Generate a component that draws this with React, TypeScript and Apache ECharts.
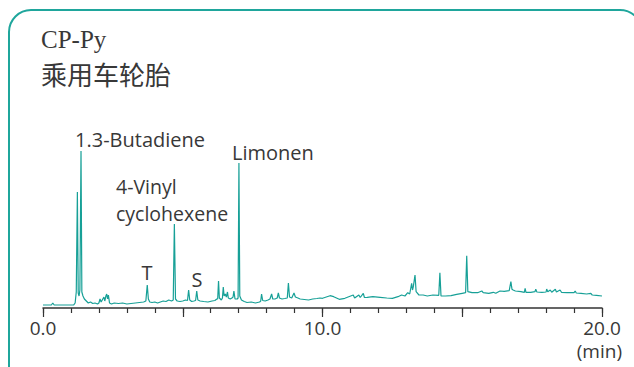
import React, { useEffect, useRef } from "react";
import * as echarts from "echarts";

// Retention time (min) of each sampled point of the pyrogram
const retentionTimes = [
  0, 0.15, 0.3, 0.35, 0.4, 0.6, 0.8, 1.0, 1.1,
  1.15, 1.19, 1.23, 1.26, 1.29, 1.32, 1.36, 1.39, 1.43, 1.48, 1.55, 1.62, 1.7, 1.78, 1.86, 1.95,
  2.0, 2.04, 2.08, 2.12, 2.18, 2.21, 2.25, 2.28, 2.31, 2.34, 2.38, 2.45,
  2.55, 2.7, 2.85, 3.0, 3.15, 3.3, 3.45, 3.6,
  3.68, 3.73, 3.77, 3.82, 3.9, 4.0, 4.1, 4.2, 4.3, 4.4, 4.5, 4.6,
  4.66, 4.7, 4.74, 4.8, 4.9, 5.0, 5.1,
  5.17, 5.21, 5.25, 5.32, 5.4,
  5.46, 5.5, 5.54, 5.62, 5.75, 5.9, 6.05, 6.15, 6.22,
  6.25, 6.28, 6.31, 6.38,
  6.42, 6.45, 6.48, 6.52, 6.56, 6.6, 6.63, 6.7, 6.76, 6.8, 6.83, 6.87, 6.95, 6.98,
  7.01, 7.04, 7.1, 7.2, 7.3, 7.45, 7.6, 7.75,
  7.79, 7.82, 7.86, 7.95, 8.05, 8.12, 8.18, 8.22, 8.3, 8.38, 8.42, 8.46, 8.55, 8.65, 8.74, 8.78, 8.82, 8.9, 8.98, 9.03, 9.12, 9.2, 9.35, 9.5, 9.65, 9.8, 9.91,
  10.0, 10.27, 10.4, 10.6, 10.8, 11.1, 11.15, 11.3, 11.35, 11.46, 11.5, 11.6, 11.8,
  12.06, 12.3, 12.5, 12.7, 12.83, 12.95, 13.05, 13.12, 13.19, 13.22, 13.25, 13.31, 13.35, 13.45, 13.6, 13.75, 13.95,
  14.16, 14.2, 14.24, 14.4, 14.6, 14.8, 15.0, 15.12, 15.16, 15.2, 15.35, 15.55, 15.7, 15.75, 15.95,
  16.11, 16.2, 16.35, 16.5, 16.68, 16.74, 16.78, 16.82, 16.9, 17.1, 17.22, 17.25, 17.28, 17.45, 17.6, 17.63, 17.67, 17.85,
  18.0, 18.02, 18.06, 18.15, 18.2, 18.33, 18.37, 18.5, 18.55, 18.75, 19.0, 19.04, 19.08, 19.25, 19.45, 19.6, 19.65, 19.8, 20.0,
];

// Detector response (arbitrary units) at each retention time
const intensities = [
  3, 3, 3, 5, 3, 3, 3, 3, 3.2,
  5, 16, 116, 15, 12, 18, 157, 16, 12, 9, 7, 5, 6, 4.5, 5, 4,
  5, 9, 6, 8, 11, 7, 12, 14, 9, 13, 5, 4,
  5, 4.5, 5, 4, 4.5, 5, 5.5, 6,
  7, 23, 9, 6, 5.5, 6, 5, 6, 7, 6.5, 8, 7,
  8, 84, 9, 7, 6.5, 7, 8,
  7.5, 18, 8, 6.5, 7,
  7.5, 17, 8, 7, 6.5, 6, 7, 7.5, 9,
  9, 27, 10, 8,
  10, 21, 12, 14, 11, 16, 10, 9, 10, 11, 17, 9, 9, 10,
  145, 12, 8, 6.5, 5.5, 6, 5, 6,
  7, 14, 7.5, 7, 8, 9, 14, 9, 9, 10, 15, 10, 9, 9.5, 10, 25, 11, 10, 15, 11, 10, 9, 8.5, 8, 9, 9.5, 10,
  9.7, 12.3, 11.3, 8.7, 9.7, 13, 10, 13, 10.5, 14.7, 10.5, 10.7, 11.3,
  10.7, 10, 9.7, 11.3, 13, 12, 15.3, 14, 24.7, 18, 21.3, 33, 16.3, 13, 13, 12, 13,
  12.7, 35.3, 12, 12, 12.3, 13.7, 14.7, 15.3, 52.3, 16.3, 15.3, 15.3, 17, 15.3, 14.7,
  15.7, 14.7, 17, 16.7, 17.3, 26.3, 18.7, 18, 17, 16.3, 15.7, 19.7, 15.7, 15.7, 16.3, 18.7, 16, 15.7,
  16, 19, 16.3, 18, 15.7, 18.7, 16, 18, 15.7, 15.3, 15.3, 17, 15, 14.7, 14, 14.7, 13, 12.7, 12,
];

// Axis range and label ticks (min)
const timeMin = 0;
const timeMax = 20;
const labelledTicks = [0, 10, 20];

// Compound annotations
const peakNames = ["1.3-Butadiene", "4-Vinyl", "cyclohexene", "Limonen", "T", "S"];

const titleLines = ["CP-Py", "乘用车轮胎"];
const unitLabel = "(min)";

const TEAL = "#17a097";
const FRAME = "#1fa69c";
const INK = "#383838";
const SANS = '"Open Sans", "Noto Sans", sans-serif';

function txt(text: string, x: number, y: number, font: string, align = "left", vAlign = "middle") {
  return {
    type: "text",
    silent: true,
    style: {
      text,
      x,
      y,
      font,
      fill: INK,
      textAlign: align,
      textVerticalAlign: vAlign,
      align,
      verticalAlign: vAlign,
    },
  };
}

export default function App() {
  const ref = useRef<HTMLDivElement>(null);

  useEffect(() => {
    if (!ref.current) return;
    const chart = echarts.init(ref.current, null, { renderer: "svg" });

    const points = retentionTimes.map((t, i) => [t, intensities[i]]);

    chart.setOption({
      animation: false,
      backgroundColor: "#ffffff",
      grid: { left: 43, right: 32, top: 148, bottom: 59, containLabel: false },
      xAxis: [
        {
          type: "value",
          min: timeMin,
          max: timeMax,
          interval: 1,
          position: "bottom",
          axisLine: { show: true, lineStyle: { color: "#333", width: 1.5 } },
          axisTick: { show: true, length: 5, lineStyle: { color: "#333", width: 1.2 } },
          axisLabel: { show: false },
          splitLine: { show: false },
        },
        {
          type: "value",
          min: timeMin,
          max: timeMax,
          interval: 5,
          position: "bottom",
          offset: 0,
          axisLine: { show: false },
          axisTick: { show: true, length: 9, lineStyle: { color: "#333", width: 1.2 } },
          axisLabel: {
            show: true,
            margin: 10,
            fontSize: 19,
            fontFamily: SANS,
            color: INK,
            formatter: (v: number) => (labelledTicks.includes(v) ? v.toFixed(1) : ""),
          },
          splitLine: { show: false },
        },
      ],
      yAxis: { type: "value", min: 0, max: 160, show: false },
      series: [
        {
          type: "line",
          xAxisIndex: 0,
          data: points,
          showSymbol: false,
          symbol: "none",
          lineStyle: { color: TEAL, width: 1.2 },
          silent: true,
        },
      ],
      graphic: [
        {
          type: "rect",
          silent: true,
          shape: { x: 9, y: 10, width: 633, height: 400, r: 22 },
          style: { fill: "none", stroke: FRAME, lineWidth: 2 },
        },
        txt(titleLines[0], 41, 39, '25px "Liberation Serif", "DejaVu Serif", serif'),
        txt(titleLines[1], 41, 73, '26px "Noto Sans CJK SC", sans-serif'),
        txt(peakNames[0], 75, 139, `20px ${SANS}`),
        txt(peakNames[1], 116, 186, `19.5px ${SANS}`),
        txt(peakNames[2], 116, 213, `19.5px ${SANS}`),
        txt(peakNames[3], 232, 152, `20px ${SANS}`),
        txt(peakNames[4], 147, 272, `20px ${SANS}`, "center"),
        txt(peakNames[5], 197, 279, `20px ${SANS}`, "center"),
        txt(unitLabel, 622, 351, `19px ${SANS}`, "right"),
      ],
    });

    return () => chart.dispose();
  }, []);

  return (
    <div
      ref={ref}
      style={{ position: "fixed", left: 0, top: 0, width: 634, height: 367, background: "#fff" }}
    />
  );
}
